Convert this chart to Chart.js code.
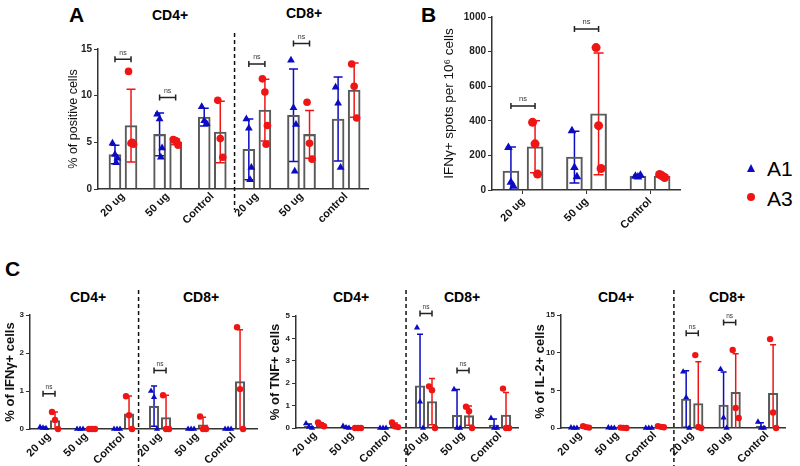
<!DOCTYPE html>
<html>
<head>
<meta charset="utf-8">
<script src="https://cdn.jsdelivr.net/npm/chart.js@4.4.0/dist/chart.umd.min.js"></script>
<style>
  body { margin: 0; width: 800px; height: 466px; background: #fff; position: relative; overflow: hidden;
         font-family: "Liberation Sans", Arial, sans-serif; }
  canvas { position: absolute; }
  .t { position: absolute; white-space: nowrap; color: #000; transform: translate(-50%, -50%); font-weight: bold; font-size: 14px; }
  .big { position: absolute; font-weight: bold; font-size: 21px; line-height: 1; }
  .leg { position: absolute; font-size: 21px; line-height: 1; transform: translateY(-50%); }
</style>
</head>
<body>
<div class="big" style="left:69px; top:4px;">A</div>
<div class="t" style="left:170px; top:15px;">CD4+</div>
<div class="t" style="left:304px; top:13px;">CD8+</div>
<div class="big" style="left:421px; top:4px;">B</div>
<div class="big" style="left:5px; top:258px;">C</div>
<div class="t" style="left:88px; top:297px;">CD4+</div>
<div class="t" style="left:201px; top:297px;">CD8+</div>
<div class="t" style="left:351px; top:297px;">CD4+</div>
<div class="t" style="left:462px; top:297px;">CD8+</div>
<div class="t" style="left:616px; top:297px;">CD4+</div>
<div class="t" style="left:727px; top:297px;">CD8+</div>
<div style="position:absolute; left:747px; top:164px; width:0; height:0; border-left:4.5px solid transparent; border-right:4.5px solid transparent; border-bottom:8px solid #0b0bc4;"></div>
<div class="leg" style="left:767px; top:168px;">A1</div>
<div style="position:absolute; left:747px; top:193px; width:8px; height:8px; border-radius:50%; background:#f01515;"></div>
<div class="leg" style="left:767px; top:198px;">A3</div>

<script>
const BLUE = '#0b0bc4';
const RED = '#f01515';
const FONT = '"Liberation Sans", Arial, sans-serif';

// ---- Panel A: % of positive cells ----
const aLabels = ['20 ug', '50 ug', 'Control', '20 ug', '50 ug', 'control'];
const aA1Points = [[4.9, 3.7, 3.3, 2.8], [8.0, 7.5, 4.4, 3.4], [8.8, 7.3, 7.0], [7.5, 6.5, 2.3, 1.0], [13.8, 8.7, 6.9, 1.9], [10.9, 9.2, 2.3]];
const aA1Mean = [3.7, 5.85, 7.7, 4.25, 7.9, 7.5];
const aA1Sd = [1.0, 2.3, 0.95, 3.25, 4.95, 4.5];
const aA3Points = [[12.6, 4.9, 4.8, 5.0], [5.3, 5.2, 4.7, 5.0], [9.5, 5.4, 3.4], [11.8, 10.4, 6.8, 4.8], [9.3, 4.9, 3.2], [13.4, 11.0, 7.6]];
const aA3Mean = [6.8, 5.05, 6.1, 8.45, 5.85, 10.6];
const aA3Sd = [3.9, 0.3, 3.3, 3.3, 2.55, 2.9];
const aNsGroups = [0, 1, 3, 4];
const aNsLevels = [13.9, 9.8, 13.4, 15.6];

// ---- Panel B: IFNg ELISpot ----
const bLabels = ['20 ug', '50 ug', 'Control'];
const bA1Points = [[245, 45, 22], [343, 130, 77], [80, 75, 85]];
const bA1Mean = [110, 190, 80];
const bA1Sd = [138, 150, 5];
const bA3Points = [[391, 267, 92], [823, 372, 124], [90, 82, 72]];
const bA3Mean = [250, 440, 81];
const bA3Sd = [150, 352, 8];
const bNsGroups = [0, 1];
const bNsLevels = [485, 930];

// ---- Panel C: intracellular cytokines ----
const cLabels = ['20 ug', '50 ug', 'Control', '20 ug', '50 ug', 'Control'];

const c1A1Points = [[0.05, 0.03, 0.02], [0, 0, 0], [0, 0, 0], [1.0, 0.84, 0], [0, 0, 0], [0, 0, 0]];
const c1A1Mean = [0.03, 0, 0, 0.6, 0, 0];
const c1A1Sd = [0.02, 0, 0, 0.53, 0, 0];
const c1A3Points = [[0.45, 0.24, 0], [0, 0, 0], [0.86, 0.36, 0], [0.89, 0, 0], [0.33, 0, 0], [2.68, 1.05, 0]];
const c1A3Mean = [0.22, 0, 0.4, 0.3, 0.11, 1.25];
const c1A3Sd = [0.23, 0, 0.47, 0.59, 0.2, 1.36];
const c1NsGroups = [0, 3];
const c1NsLevels = [0.93, 1.54];

const c2A1Points = [[0.2, 0.05, 0], [0.08, 0.02, 0], [0, 0, 0], [4.48, 1.17, 0], [1.72, 0, 0], [0.44, 0, 0]];
const c2A1Mean = [0.08, 0.03, 0, 1.88, 0.57, 0.13];
const c2A1Sd = [0.1, 0.04, 0, 2.3, 1.15, 0.27];
const c2A3Points = [[0.25, 0.15, 0.08], [0, 0, 0], [0.25, 0.08, 0.04], [1.86, 1.69, 0], [0.95, 0.75, 0], [1.76, 0, 0]];
const c2A3Mean = [0.15, 0, 0.12, 1.18, 0.55, 0.58];
const c2A3Sd = [0.08, 0, 0.1, 1.03, 0.43, 1.0];
const c2NsGroups = [3, 4];
const c2NsLevels = [5.11, 2.57];

const c3A1Points = [[0.05, 0, 0], [0.05, 0, 0], [0, 0, 0], [7.46, 4.05, 0], [7.8, 1.38, 0], [0.8, 0, 0]];
const c3A1Mean = [0.02, 0.02, 0, 3.85, 3.05, 0.25];
const c3A1Sd = [0.03, 0.03, 0, 3.75, 4.4, 0.45];
const c3A3Points = [[0.25, 0.12, 0.05], [0.05, 0.02, 0], [0.25, 0.15, 0.1], [9.68, 0.13, 0], [10.35, 2.66, 1.33], [11.8, 2.05, 0]];
const c3A3Mean = [0.14, 0.02, 0.17, 3.25, 4.75, 4.6];
const c3A3Sd = [0.1, 0.02, 0.08, 5.55, 5.1, 6.45];
const c3NsGroups = [3, 4];
const c3NsLevels = [12.57, 14.0];

const JITTER = [-1, 0, 1, 0.5];

// error bars under the points, ns brackets and dashed divider on top
const overlay = {
  id: 'overlay',
  beforeDatasetsDraw(chart, args, o) {
    const ctx = chart.ctx, xs = chart.scales.x, ys = chart.scales.y;
    ctx.save();
    ctx.lineWidth = o.errWidth;
    o.errors.forEach(e => e.mean.forEach((m, i) => {
      const sd = e.sd[i];
      if (!sd) return;
      const x = xs.getPixelForValue(i + e.shift);
      const hi = ys.getPixelForValue(m + sd);
      const low = m - sd;
      const lo = ys.getPixelForValue(Math.max(low, 0));
      ctx.strokeStyle = e.color;
      ctx.beginPath();
      ctx.moveTo(x, hi); ctx.lineTo(x, lo);
      ctx.moveTo(x - o.cap, hi); ctx.lineTo(x + o.cap, hi);
      if (low > 0) { ctx.moveTo(x - o.cap, lo); ctx.lineTo(x + o.cap, lo); }
      ctx.stroke();
    }));
    ctx.restore();
  },
  afterDatasetsDraw(chart, args, o) {
    const ctx = chart.ctx, xs = chart.scales.x, ys = chart.scales.y;
    ctx.save();
    if (o.divider != null) {
      const x = xs.getPixelForValue(o.divider);
      ctx.strokeStyle = '#111';
      ctx.lineWidth = 1.5;
      ctx.setLineDash([4, 3]);
      ctx.beginPath(); ctx.moveTo(x, o.divFrom); ctx.lineTo(x, o.divTo); ctx.stroke();
      ctx.setLineDash([]);
    }
    ctx.strokeStyle = '#222';
    ctx.fillStyle = '#333';
    ctx.lineWidth = 1.5;
    ctx.font = o.nsFont + 'px ' + FONT;
    ctx.textAlign = 'center';
    ctx.textBaseline = 'bottom';
    o.nsGroups.forEach((g, k) => {
      const x1 = xs.getPixelForValue(g - o.dodge), x2 = xs.getPixelForValue(g + o.dodge);
      const y = ys.getPixelForValue(o.nsLevels[k]);
      ctx.beginPath();
      ctx.moveTo(x1, y); ctx.lineTo(x2, y);
      ctx.moveTo(x1, y - o.capH); ctx.lineTo(x1, y + o.capH);
      ctx.moveTo(x2, y - o.capH); ctx.lineTo(x2, y + o.capH);
      ctx.stroke();
      ctx.fillText('ns', (x1 + x2) / 2, y - o.capH);
    });
    ctx.restore();
  }
};

function makePanel(p) {
  const canvas = document.createElement('canvas');
  canvas.width = p.w;
  canvas.height = p.h;
  canvas.style.left = p.left + 'px';
  canvas.style.top = p.top + 'px';
  canvas.style.width = p.w + 'px';
  canvas.style.height = p.h + 'px';
  document.body.appendChild(canvas);

  const unitPx = (p.w - p.padR - p.yW) / (p.xMax - p.xMin);
  const pts = (groups, shift) => groups.flatMap((vals, i) =>
    vals.map((v, k) => ({ x: i + shift + JITTER[k] * p.jit / unitPx, y: v })));
  const bars = (means, shift) => means.map((m, i) => ({ x: i + shift, y: m }));
  const barStyle = { type: 'bar', grouped: false, barThickness: p.bw, backgroundColor: 'rgba(0,0,0,0)',
                     borderColor: '#5a5a5a', borderWidth: 1.4, order: 2 };

  new Chart(canvas, {
    type: 'bar',
    data: {
      datasets: [
        { type: 'scatter', label: 'A1', data: pts(p.a1Points, -p.dodge), pointStyle: 'triangle',
          pointRadius: p.rTri, backgroundColor: BLUE, borderColor: BLUE, borderWidth: 0, clip: false, order: 0 },
        { type: 'scatter', label: 'A3', data: pts(p.a3Points, p.dodge), pointStyle: 'circle',
          pointRadius: p.rDot, backgroundColor: RED, borderColor: RED, borderWidth: 0, clip: false, order: 0 },
        Object.assign({ label: 'A1 mean', data: bars(p.a1Mean, -p.dodge) }, barStyle),
        Object.assign({ label: 'A3 mean', data: bars(p.a3Mean, p.dodge) }, barStyle)
      ]
    },
    options: {
      responsive: false,
      animation: false,
      devicePixelRatio: 1,
      layout: { padding: { left: 0, right: p.padR, top: p.padT, bottom: 0 } },
      plugins: {
        legend: { display: false },
        tooltip: { enabled: false },
        overlay: {
          errors: [
            { mean: p.a1Mean, sd: p.a1Sd, shift: -p.dodge, color: BLUE },
            { mean: p.a3Mean, sd: p.a3Sd, shift: p.dodge, color: RED }
          ],
          errWidth: 1.5, cap: p.cap, capH: 3, dodge: p.dodge,
          nsGroups: p.nsGroups, nsLevels: p.nsLevels, nsFont: p.nsFont,
          divider: p.divider, divFrom: p.divFrom, divTo: p.divTo
        }
      },
      scales: {
        x: {
          type: 'linear', min: p.xMin, max: p.xMax, offset: false,
          grid: { display: true, drawOnChartArea: false, drawTicks: p.xTicks, tickLength: 4, color: '#333', offset: false },
          border: { color: '#333', width: 1.5 },
          afterBuildTicks: ax => { ax.ticks = p.labels.map((_, i) => ({ value: i })); },
          afterFit: ax => { ax.height = p.xH; },
          ticks: { autoSkip: false, minRotation: 45, maxRotation: 45, padding: 1, color: '#111',
                   font: { family: FONT, size: 11, weight: 'bold' },
                   callback: v => p.labels[v] }
        },
        y: {
          min: 0, max: p.yMax,
          grid: { display: true, drawOnChartArea: false, drawTicks: true, tickLength: 4, color: '#333' },
          border: { color: '#333', width: 1.5 },
          afterFit: ax => { ax.width = p.yW; },
          ticks: { stepSize: p.yStep, padding: 2, color: '#222', font: { family: FONT, size: p.tickSize, weight: 'bold' },
                   callback: v => String(v) },
          title: { display: true, text: p.yTitle, color: '#111', padding: { top: p.titlePad, bottom: 0 },
                   font: { family: FONT, size: p.titleSize, weight: p.titleWeight, lineHeight: 1.2 } }
        }
      }
    },
    plugins: [overlay]
  });
}

makePanel({
  left: 0, top: 0, w: 380, h: 230, padR: 12, padT: 49, yW: 98, xH: 41,
  xMin: -0.56, xMax: 5.49, dodge: 0.18, bw: 12, rTri: 4.5, rDot: 3.8, jit: 2.5, cap: 4.5,
  labels: aLabels, a1Points: aA1Points, a1Mean: aA1Mean, a1Sd: aA1Sd,
  a3Points: aA3Points, a3Mean: aA3Mean, a3Sd: aA3Sd, nsGroups: aNsGroups, nsLevels: aNsLevels, nsFont: 7,
  yMax: 15, yStep: 5, tickSize: 10, yTitle: '% of positive cells', titleSize: 12.5, titleWeight: 'normal', titlePad: 66.5,
  xTicks: false, divider: 2.5, divFrom: 33, divTo: 210
});

makePanel({
  left: 400, top: 0, w: 290, h: 230, padR: 10, padT: 17, yW: 92, xH: 40,
  xMin: -0.488, xMax: 2.472, dodge: 0.19, bw: 16, rTri: 5, rDot: 4.5, jit: 2.5, cap: 5,
  labels: bLabels, a1Points: bA1Points, a1Mean: bA1Mean, a1Sd: bA1Sd,
  a3Points: bA3Points, a3Mean: bA3Mean, a3Sd: bA3Sd, nsGroups: bNsGroups, nsLevels: bNsLevels, nsFont: 7.5,
  yMax: 1000, yStep: 200, tickSize: 10, yTitle: 'IFN\u03b3+ spots per 10\u2076 cells', titleSize: 13.5, titleWeight: 'normal', titlePad: 41,
  xTicks: true, divider: null
});

const cCommon = { top: 290, h: 176, dodge: 0.162, bw: 9.5, rTri: 3.6, rDot: 3.2, jit: 3, cap: 3, nsFont: 6.5,
                  labels: cLabels, tickSize: 8, titleSize: 13, titleWeight: 'bold', titlePad: 3,
                  xTicks: false, divFrom: 0, divTo: 176 };

makePanel(Object.assign({}, cCommon, {
  left: 0, w: 265, padR: 8, padT: 25, yW: 30, xH: 37, xMin: -0.514, xMax: 5.62,
  a1Points: c1A1Points, a1Mean: c1A1Mean, a1Sd: c1A1Sd, a3Points: c1A3Points, a3Mean: c1A3Mean, a3Sd: c1A3Sd,
  nsGroups: c1NsGroups, nsLevels: c1NsLevels, yMax: 3, yStep: 1, yTitle: '% of IFN\u03b3+ cells', divider: 2.42
}));

makePanel(Object.assign({}, cCommon, {
  left: 265, w: 265, padR: 12, padT: 26, yW: 31, xH: 38, xMin: -0.514, xMax: 5.486,
  a1Points: c2A1Points, a1Mean: c2A1Mean, a1Sd: c2A1Sd, a3Points: c2A3Points, a3Mean: c2A3Mean, a3Sd: c2A3Sd,
  nsGroups: c2NsGroups, nsLevels: c2NsLevels, yMax: 5, yStep: 1, yTitle: '% of TNF+ cells', divider: 2.46
}));

makePanel(Object.assign({}, cCommon, {
  left: 530, w: 270, padR: 15, padT: 25, yW: 31, xH: 38, xMin: -0.508, xMax: 5.48,
  a1Points: c3A1Points, a1Mean: c3A1Mean, a1Sd: c3A1Sd, a3Points: c3A3Points, a3Mean: c3A3Mean, a3Sd: c3A3Sd,
  nsGroups: c3NsGroups, nsLevels: c3NsLevels, yMax: 15, yStep: 5, yTitle: '% of IL-2+ cells', divider: 2.51
}));
</script>
</body>
</html>
